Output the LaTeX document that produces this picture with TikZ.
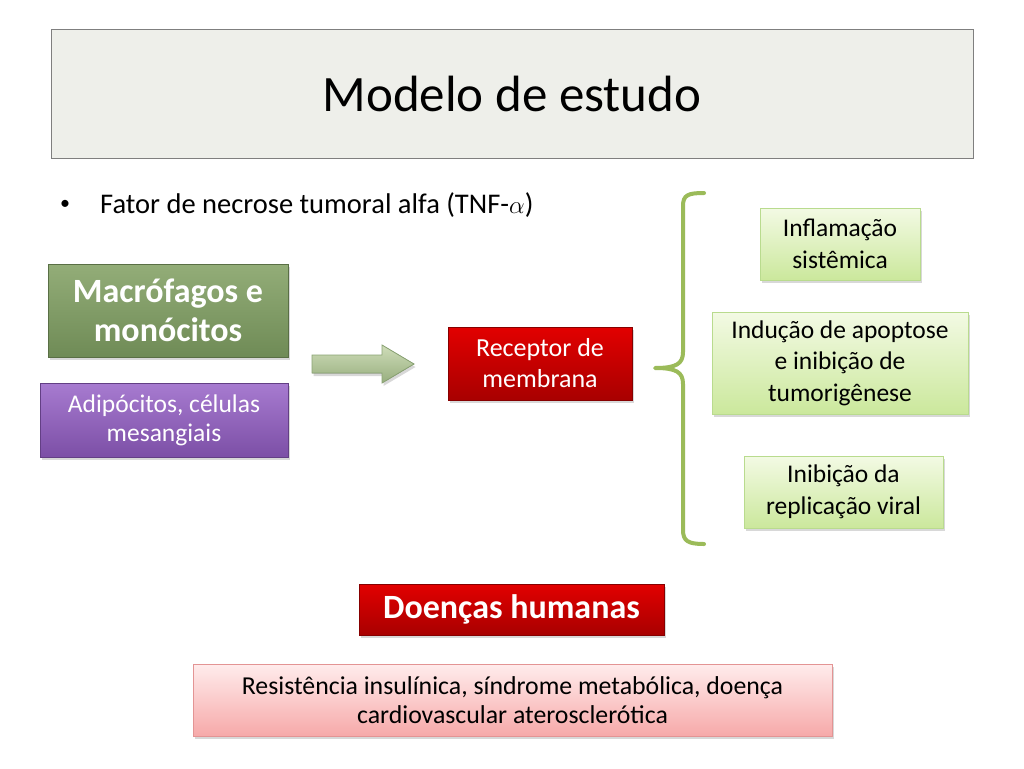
\documentclass[tikz,border=0pt]{standalone}
\usepackage{fontspec}
\setmainfont{Carlito}
\usetikzlibrary{shadows}
\definecolor{titlefill}{HTML}{EEEFEA}
\definecolor{titleborder}{HTML}{7F7F7F}
\definecolor{macA}{HTML}{93AD78}
\definecolor{macB}{HTML}{6F8B56}
\definecolor{purA}{HTML}{A77BD0}
\definecolor{purB}{HTML}{7C4FA6}
\definecolor{redA}{HTML}{E20000}
\definecolor{redB}{HTML}{A80000}
\definecolor{lgA}{HTML}{F3FAE4}
\definecolor{lgB}{HTML}{CBE89C}
\definecolor{lgBorder}{HTML}{B9DB8E}
\definecolor{pinkA}{HTML}{FFECEC}
\definecolor{pinkB}{HTML}{F6A9A9}
\definecolor{pinkBorder}{HTML}{E39494}
\definecolor{arrA}{HTML}{CFDDB9}
\definecolor{arrB}{HTML}{97AE7E}
\definecolor{arrBorder}{HTML}{8AA373}
\definecolor{braceCol}{HTML}{9BBB59}
\tikzset{
  box/.style={rectangle, align=center, inner sep=2pt,
    drop shadow={shadow xshift=1.5pt, shadow yshift=-3pt, opacity=0.3}},
  greenbox/.style={box, top color=macA, bottom color=macB, draw=macB!80!black, text=white,
    font=\fontsize{34}{39}\selectfont\bfseries},
  purplebox/.style={box, top color=purA, bottom color=purB, draw=purB!80!black, text=white,
    font=\fontsize{25.5}{29}\selectfont},
  redbox/.style={box, top color=redA, bottom color=redB, draw=redB!80!black, text=white},
  lightbox/.style={box, top color=lgA, bottom color=lgB, draw=lgBorder, text=black,
    font=\fontsize{25.5}{31.5}\selectfont},
  pinkbox/.style={box, top color=pinkA, bottom color=pinkB, draw=pinkBorder, text=black,
    font=\fontsize{25.8}{29.5}\selectfont},
}
\begin{document}
\begin{tikzpicture}[x=1pt,y=-1pt]
\useasboundingbox[fill=white] (0,0) rectangle (1024,768);
% title
\node[rectangle, fill=titlefill, draw=titleborder, line width=1pt,
  minimum width=922pt, minimum height=128pt, font=\fontsize{51}{56}\selectfont]
  (title) at (512,94) {Modelo de estudo};
% bullet
\node[font=\fontsize{20}{24}\selectfont, anchor=center, inner sep=0pt] (bullet) at (65,205) {\textbullet};
\node[font=\fontsize{28.5}{33}\selectfont, anchor=west, inner sep=0pt] (tnf) at (100,205)
  {Fator de necrose tumoral alfa (TNF-$\alpha$)};
% left boxes
\node[greenbox, minimum width=240pt, minimum height=93pt] (mac) at (168,310.5)
  {Macrófagos e\\monócitos};
\node[purplebox, minimum width=248pt, minimum height=74pt] (adi) at (164,420)
  {Adipócitos, células\\mesangiais};
% block arrow
\coordinate (arrtail) at (312,364);
\coordinate (arrtip) at (414,364);
\filldraw[draw=arrBorder, top color=arrA, bottom color=arrB, line width=0.8pt,
  drop shadow={shadow xshift=1.5pt, shadow yshift=-3pt, opacity=0.3}]
  ([yshift=9pt]arrtail) -- (382,355) -- (382,345) -- (arrtip) -- (382,383)
  -- (382,373) -- ([yshift=-9pt]arrtail) -- cycle;
% receptor
\node[redbox, minimum width=184pt, minimum height=73pt, font=\fontsize{26}{31}\selectfont]
  (rec) at (540,363.5) {Receptor de\\membrana};
% brace
\coordinate (btop) at (704,193);
\coordinate (bmid) at (655,368);
\coordinate (bbot) at (704,544);
\draw[braceCol, line width=4pt, line cap=round, line join=round]
  (btop) .. controls (688,193) and (683,195) .. (683,206)
  -- (683,352) .. controls (683,364) and (676,368) .. (bmid)
  .. controls (676,368) and (683,372) .. (683,384)
  -- (683,530) .. controls (683,541) and (688,544) .. (bbot);
% right boxes
\node[lightbox, minimum width=160pt, minimum height=72pt] (infl) at (840,244)
  {Inflamação\\sistêmica};
\node[lightbox, minimum width=256pt, minimum height=102pt] (indu) at (840,363)
  {Indução de apoptose\\e inibição de\\tumorigênese};
\node[lightbox, minimum width=199pt, minimum height=72pt] (inib) at (843.5,492)
  {Inibição da\\replicação viral};
% bottom
\node[redbox, minimum width=305pt, minimum height=51pt, font=\fontsize{34}{38}\selectfont\bfseries]
  (doen) at (511.5,609.5) {Doenças humanas};
\node[pinkbox, minimum width=639pt, minimum height=72pt] (res) at (512.5,700)
  {Resistência insulínica, síndrome metabólica, doença\\cardiovascular aterosclerótica};
\end{tikzpicture}
\end{document}
